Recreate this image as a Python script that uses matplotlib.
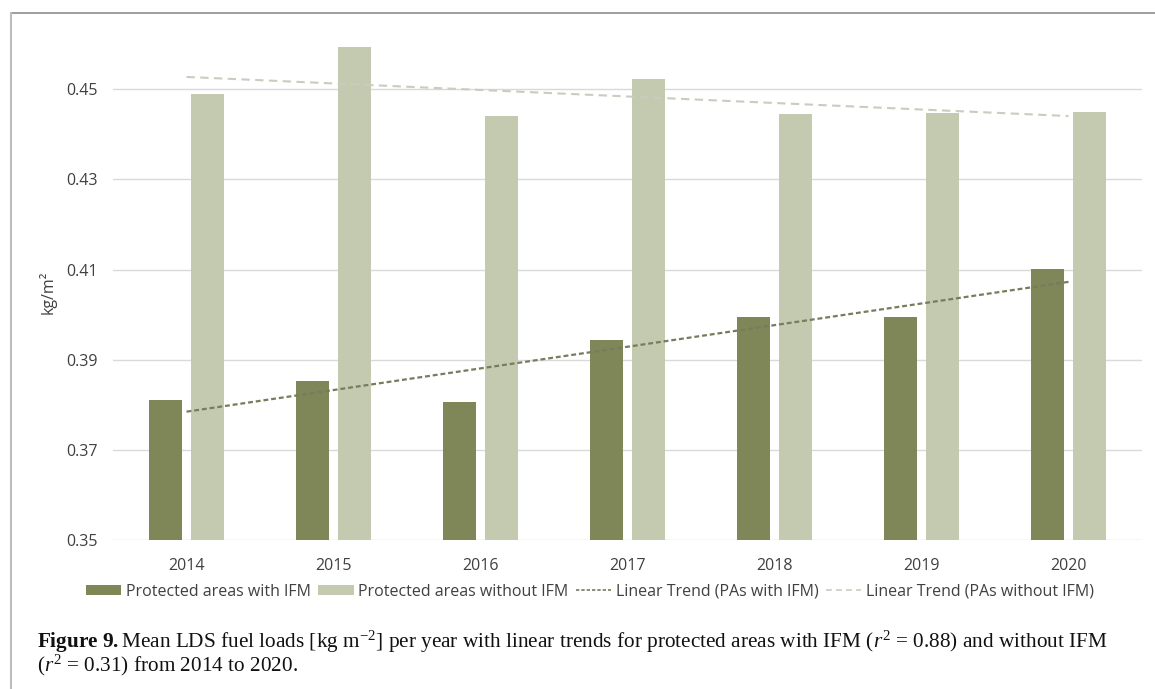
import numpy as np
import matplotlib
matplotlib.use("Agg")
import matplotlib.pyplot as plt
from matplotlib.patches import Patch
from matplotlib.lines import Line2D

years = ["2014", "2015", "2016", "2017", "2018", "2019", "2020"]
with_ifm = [0.3810, 0.3852, 0.3807, 0.3943, 0.3994, 0.3994, 0.4101]
without_ifm = [0.4490, 0.4593, 0.4440, 0.4522, 0.4445, 0.4448, 0.4450]
yticks = [0.35, 0.37, 0.39, 0.41, 0.43, 0.45]

c_with = "#7F8759"
c_without = "#C3CAB0"
c_trend_with = "#767C5C"
c_trend_without = "#C9CCBF"

plt.rcParams["mathtext.fontset"] = "custom"
plt.rcParams["mathtext.rm"] = "Liberation Serif"
plt.rcParams["mathtext.it"] = "Liberation Serif:italic"
plt.rcParams["mathtext.bf"] = "Liberation Serif:bold"

sans = ["Open Sans", "DejaVu Sans"]
serif = ["Liberation Serif", "DejaVu Serif"]

fig = plt.figure(figsize=(11.55, 6.89), dpi=100)
W, H = 1155, 689
ax = fig.add_axes([113 / W, 1 - 540 / H, (1142 - 113) / W, (540 - 44.2) / H])

x = np.arange(len(years))
bw = 0.22
off = 0.1425
ax.bar(x - off, with_ifm, width=bw, color=c_with, zorder=3)
ax.bar(x + off, without_ifm, width=bw, color=c_without, zorder=3)

# linear trends fitted from the data
p1 = np.polyfit(x, with_ifm, 1)
p2 = np.polyfit(x, without_ifm, 1)
ax.plot(x, np.polyval(p1, x), color=c_trend_with, lw=1.6, dashes=(2.2, 1.3), zorder=4)
ax.plot(x, np.polyval(p2, x), color=c_trend_without, lw=1.5, dashes=(4, 2.6), zorder=4)

ax.set_xlim(-0.5, len(years) - 0.5)
ax.set_ylim(0.35, 0.46)
ax.set_yticks(yticks)
ax.set_yticklabels([f"{v:.2f}" for v in yticks], family=sans, fontsize=11.5, color="#404040")
ax.set_xticks(x)
ax.set_xticklabels(years, family=sans, fontsize=11.5, color="#404040")
ax.tick_params(axis="x", length=0, pad=13)
ax.tick_params(axis="y", length=0, pad=11)
ax.grid(axis="y", color="#D9D9D9", lw=1, zorder=0)
for s in ax.spines.values():
    s.set_visible(False)
ax.set_ylabel("kg/m²", family=sans, fontsize=11.5, color="#404040", labelpad=7)

handles = [
    Patch(facecolor=c_with, edgecolor="none"),
    Patch(facecolor=c_without, edgecolor="none"),
    Line2D([0], [0], color=c_trend_with, lw=1.2, dashes=(2, 1.2)),
    Line2D([0], [0], color=c_trend_without, lw=1.2, dashes=(3.5, 2.5)),
]
labels = ["Protected areas with IFM", "Protected areas without IFM",
          "Linear Trend (PAs with IFM)", "Linear Trend (PAs without IFM)"]
leg = fig.legend(handles, labels, loc="center", bbox_to_anchor=(590 / W, 1 - 591.7 / H),
                 ncol=4, frameon=False, handlelength=2.2, handleheight=0.6,
                 handletextpad=0.3, columnspacing=0.45,
                 prop={"family": sans, "size": 11.5})
for t in leg.get_texts():
    t.set_color("#404040")

# frame lines (top and left)
fig.add_artist(Line2D([11 / W, 1], [1 - 13 / H, 1 - 13 / H], color="#8C8C8C", lw=1.2,
                      transform=fig.transFigure))
fig.add_artist(Line2D([11 / W, 11 / W], [0, 1 - 13 / H], color="#BDBDBD", lw=1.5,
                      transform=fig.transFigure))

caption = (r"$\mathbf{Figure\ 9.}$Mean LDS fuel loads [kg m$^{-2}$] per year with linear "
           r"trends for protected areas with IFM ($r^2$ = 0.88) and without IFM" "\n"
           r"($r^2$ = 0.31) from 2014 to 2020.")
fig.text(37 / W, 1 - 653.5 / H, caption, family=serif, fontsize=15.3, va="center", ha="left",
         color="#111111", linespacing=0.86)

fig.savefig("out.png", dpi=100)
